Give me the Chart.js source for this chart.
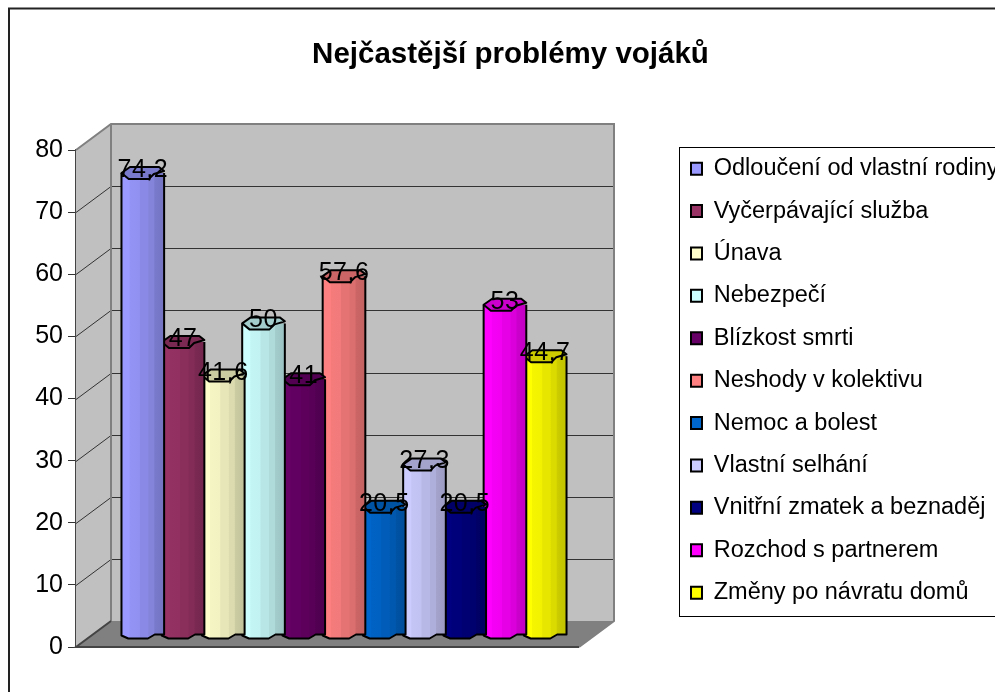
<!DOCTYPE html>
<html>
<head>
<meta charset="utf-8">
<style>
html,body{margin:0;padding:0;background:#fff;overflow:hidden}
#wrap{position:absolute;left:0;top:0;width:995px;height:692px}
</style>
<script src="https://cdn.jsdelivr.net/npm/chart.js@4"></script>
</head>
<body>
<div id="wrap"><canvas id="chart" width="995" height="692"></canvas></div>
<script>
const chartTitle = "Nejčastější problémy vojáků";
const seriesNames = ["Odloučení od vlastní rodiny", "Vyčerpávající služba", "Únava", "Nebezpečí", "Blízkost smrti", "Neshody v kolektivu", "Nemoc a bolest", "Vlastní selhání", "Vnitřní zmatek a beznaděj", "Rozchod s partnerem", "Změny po návratu domů"];
const seriesValues = [74.2, 47, 41.6, 50, 41, 57.6, 20.5, 27.3, 20.5, 53, 44.7];
const seriesColors = ["#9999FF", "#993366", "#FFFFCC", "#CCFFFF", "#660066", "#FF8080", "#0066CC", "#CCCCFF", "#000080", "#FF00FF", "#FFFF00"];
const yMax = 80;
const yStep = 10;

// depth of the 3d box in pixels, bars stand half way in
const depthX = 35;
const depthY = -26;
const barShiftX = depthX / 2 - 1;

function shade(hex, f) {
  const n = parseInt(hex.slice(1), 16);
  const c = [n >> 16, (n >> 8) & 255, n & 255].map(v => Math.round(v * f));
  return `rgb(${c[0]},${c[1]},${c[2]})`;
}

// walls and floor go behind the bars
const box3d = {
  id: "box3d",
  beforeDatasetsDraw(chart) {
    const { ctx, chartArea: a, scales: { y } } = chart;
    const top = y.getPixelForValue(yMax), bot = y.getPixelForValue(0);
    ctx.save();
    ctx.fillStyle = "#C0C0C0";
    ctx.fillRect(a.left + depthX, top + depthY, a.right - a.left, bot - top);
    ctx.beginPath();
    ctx.moveTo(a.left, top);
    ctx.lineTo(a.left + depthX, top + depthY);
    ctx.lineTo(a.left + depthX, bot + depthY);
    ctx.lineTo(a.left, bot);
    ctx.closePath();
    ctx.fill();
    ctx.fillStyle = "#808080";
    ctx.beginPath();
    ctx.moveTo(a.left, bot);
    ctx.lineTo(a.left + depthX, bot + depthY);
    ctx.lineTo(a.right + depthX, bot + depthY);
    ctx.lineTo(a.right, bot);
    ctx.closePath();
    ctx.fill();
    ctx.strokeStyle = "#333";
    ctx.lineWidth = 1;
    for (let v = yStep; v < yMax; v += yStep) {
      const p = Math.round(y.getPixelForValue(v));
      ctx.beginPath();
      ctx.moveTo(a.left, p + 0.5);
      ctx.lineTo(a.left + depthX, p + depthY + 0.5);
      ctx.lineTo(a.right + depthX, p + depthY + 0.5);
      ctx.stroke();
    }
    ctx.strokeStyle = "#808080";
    ctx.lineWidth = 2;
    ctx.beginPath();
    ctx.moveTo(a.left, top);
    ctx.lineTo(a.left + depthX, top + depthY);
    ctx.lineTo(a.right + depthX, top + depthY);
    ctx.lineTo(a.right + depthX, bot + depthY);
    ctx.lineTo(a.right, bot);
    ctx.moveTo(a.left + depthX, top + depthY);
    ctx.lineTo(a.left + depthX, bot + depthY);
    ctx.stroke();
    ctx.strokeStyle = "#444";
    ctx.beginPath();
    ctx.moveTo(a.left + depthX, bot + depthY);
    ctx.lineTo(a.left, bot);
    ctx.lineTo(a.right, bot);
    ctx.stroke();
    ctx.restore();
  },
  // bars are moved half way into the box, then turned into cylinders
  beforeDatasetDraw(chart) {
    chart.ctx.save();
    chart.ctx.translate(barShiftX, depthY / 2);
  },
  afterDatasetDraw(chart, args) {
    const { ctx } = chart;
    const bar = chart.getDatasetMeta(args.index).data[0];
    const col = seriesColors[args.index];
    const l = bar.x - bar.width / 2, r = bar.x + bar.width / 2, w = bar.width;
    const t = bar.y, b = bar.base;
    const g = ctx.createLinearGradient(l, 0, r, 0);
    const bands = [[0, 1], [0.18, 1], [0.2, 0.96], [0.42, 0.95], [0.44, 0.9], [0.62, 0.9], [0.64, 0.86], [0.76, 0.86], [0.78, 0.8], [1, 0.76]];
    bands.forEach(s => g.addColorStop(s[0], shade(col, s[1])));
    ctx.fillStyle = g;
    ctx.strokeStyle = "#000";
    ctx.lineWidth = 2;
    ctx.lineJoin = "round";
    const body = new Path2D();
    body.moveTo(l, t);
    body.lineTo(l, b + 2);
    body.lineTo(l + w * 0.16, b + 5);
    body.lineTo(l + w * 0.62, b + 5);
    body.lineTo(l + w * 0.78, b + 1);
    body.lineTo(r, b + 1);
    body.lineTo(r, t);
    body.closePath();
    ctx.fill(body);
    ctx.beginPath();
    ctx.moveTo(l, t);
    ctx.lineTo(l, b + 2);
    ctx.lineTo(l + w * 0.16, b + 5);
    ctx.lineTo(l + w * 0.62, b + 5);
    ctx.lineTo(l + w * 0.78, b + 1);
    ctx.lineTo(r, b + 1);
    ctx.lineTo(r, t);
    ctx.stroke();
    // top cap
    ctx.fillStyle = shade(col, 0.8);
    ctx.beginPath();
    ctx.moveTo(l, t);
    ctx.lineTo(l + w * 0.17, t + 6);
    ctx.lineTo(l + w * 0.64, t + 6);
    ctx.lineTo(l + w * 0.76, t + 1);
    ctx.lineTo(r, t - 2);
    ctx.lineTo(l + w * 0.88, t - 6);
    ctx.lineTo(l + w * 0.2, t - 6);
    ctx.closePath();
    ctx.fill();
    ctx.stroke();
    ctx.restore();
  },
  // value labels sit over everything, with a decimal comma
  afterDatasetsDraw(chart) {
    const { ctx } = chart;
    ctx.save();
    ctx.font = "25px 'Liberation Sans'";
    ctx.letterSpacing = "0.5px";
    ctx.fillStyle = "#000";
    ctx.textAlign = "center";
    ctx.textBaseline = "alphabetic";
    seriesValues.forEach((v, i) => {
      const bar = chart.getDatasetMeta(i).data[0];
      ctx.fillText(String(v).replace(".", ","), bar.x + barShiftX, bar.y + depthY / 2 + 4);
    });
    ctx.restore();
  },
  // legend and title moved to their places
  afterLayout(chart) {
    const lg = chart.legend;
    lg.left = 672.1;
    lg.top = 138;
    lg.right = 1100;
    lg.bottom = 640;
    const tb = chart.titleBlock;
    tb.left = 10;
    tb.right = 1011;
    tb.top = 40.5;
    tb.bottom = 70;
  },
  beforeDraw(chart) {
    const { ctx } = chart;
    ctx.save();
    ctx.strokeStyle = "#222";
    ctx.lineWidth = 2;
    ctx.strokeRect(9, 8.5, 1000, 700);
    ctx.lineWidth = 1;
    ctx.strokeStyle = "#000";
    ctx.strokeRect(679.5, 147.5, 400, 469);
    ctx.restore();
  }
};

new Chart(document.getElementById("chart"), {
  type: "bar",
  data: {
    labels: [""],
    datasets: seriesNames.map((name, i) => ({
      label: name,
      data: [seriesValues[i]],
      backgroundColor: seriesColors[i],
      borderColor: "#000",
      borderWidth: 2,
      clip: false,
      barPercentage: 1.06,
      categoryPercentage: 0.88
    }))
  },
  plugins: [box3d],
  options: {
    responsive: false,
    animation: false,
    layout: { padding: { left: 16, right: 416, top: 120.5, bottom: 45 } },
    scales: {
      x: { display: false },
      y: {
        min: 0,
        max: yMax,
        afterFit(s) { s.width = 60; },
        border: { display: true, color: "#444", width: 2 },
        grid: { drawOnChartArea: false, color: "#333", tickLength: 8 },
        ticks: {
          stepSize: yStep,
          color: "#000",
          padding: 5,
          font: { family: "'Liberation Sans'", size: 25 }
        }
      }
    },
    plugins: {
      tooltip: { enabled: false },
      title: {
        display: true,
        text: chartTitle,
        position: "top",
        padding: 0,
        color: "#000",
        font: { family: "'Liberation Sans'", size: 29.5, weight: "bold", lineHeight: 1 }
      },
      legend: {
        position: "chartArea",
        align: "start",
        maxHeight: 640,
        maxWidth: 500,
        labels: {
          boxWidth: 11,
          boxHeight: 12,
          padding: 18.9,
          color: "#000",
          font: { family: "'Liberation Sans'", size: 23.5 }
        }
      }
    }
  }
});
</script>
</body>
</html>
